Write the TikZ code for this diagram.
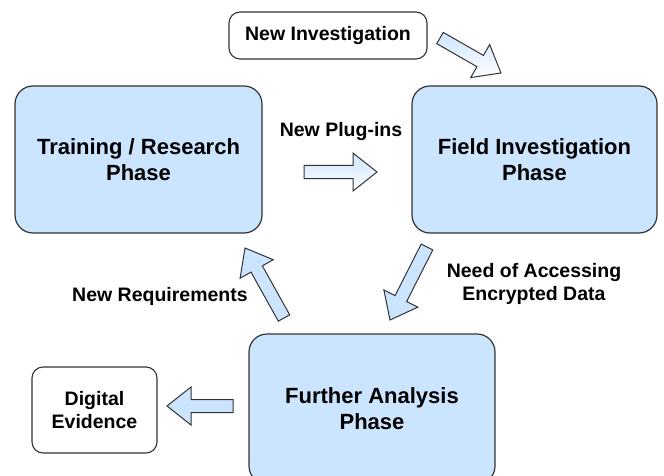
\documentclass[tikz,border=0pt]{standalone}
\usepackage{fontspec}
\setmainfont{Liberation Sans}
\usetikzlibrary{calc}
\definecolor{phaseblue}{HTML}{CCE5FF}
\definecolor{edgegray}{HTML}{333333}
\tikzset{
  phasebox/.style={draw=edgegray, line width=1.2pt, fill=phaseblue, rounded corners=18pt,
    align=center, font=\bfseries\fontsize{22}{26}\selectfont, inner sep=0pt},
  plainbox/.style={draw=edgegray, line width=1.1pt, fill=white, rounded corners=11pt,
    align=center, font=\bfseries\fontsize{19.5}{23}\selectfont, inner sep=0pt},
  lbl/.style={align=center, font=\bfseries\fontsize{19.5}{23}\selectfont, inner sep=0pt},
  blockarrowstyle/.style={draw=edgegray, line width=1pt, fill=phaseblue, line join=miter},
  gradarrow/.style={top color=phaseblue, bottom color=white, draw=edgegray}
}
\newcommand\blockarrow[3][]{%
  \coordinate (ba-h) at ($(#3)!24pt!(#2)$);
  \draw[blockarrowstyle,#1]
    ($(#2)!6.5pt!90:(#3)$) -- ($(ba-h)!6.5pt!-90:(#2)$) -- ($(ba-h)!19pt!-90:(#2)$) -- (#3)
    -- ($(ba-h)!19pt!90:(#2)$) -- ($(ba-h)!6.5pt!90:(#2)$) -- ($(#2)!6.5pt!-90:(#3)$) -- cycle;
}
\begin{document}
\begin{tikzpicture}[x=1pt,y=-1pt]
\useasboundingbox (0,0) rectangle (664,476);
\clip (0,0) rectangle (664,476);
\fill[white] (0,0) rectangle (664,476);

\node[plainbox, minimum width=198pt, minimum height=47pt] (newinv) at (328,35.5) {New Investigation};
\node[phasebox, minimum width=247pt, minimum height=147pt] (train) at (138.5,159.5) {Training / Research\\Phase};
\node[phasebox, minimum width=245pt, minimum height=147pt] (field) at (534.5,159.5) {Field Investigation\\Phase};
\node[phasebox, minimum width=246pt, minimum height=150pt] (further) at (372,409) {Further Analysis\\Phase};
\node[plainbox, minimum width=125pt, minimum height=86pt] (digital) at (94.5,410) {Digital\\Evidence};

\node[lbl] (plugins) at (341,132) {New Plug-ins};
\node[lbl] (need) at (534,283.5) {Need of Accessing\\Encrypted Data};
\node[lbl] (req) at (160,296) {New Requirements};

\coordinate (a1t) at (440,38);  \coordinate (a1h) at (501,73);
\coordinate (a2t) at (304,172); \coordinate (a2h) at (377,172);
\coordinate (a3t) at (427,247); \coordinate (a3h) at (390,320);
\coordinate (a4t) at (284,318); \coordinate (a4h) at (245,248);
\coordinate (a5t) at (233,406); \coordinate (a5h) at (167,406);

\blockarrow[gradarrow]{a1t}{a1h}
\blockarrow[gradarrow]{a2t}{a2h}
\blockarrow{a3t}{a3h}
\blockarrow{a4t}{a4h}
\blockarrow{a5t}{a5h}
\end{tikzpicture}
\end{document}
